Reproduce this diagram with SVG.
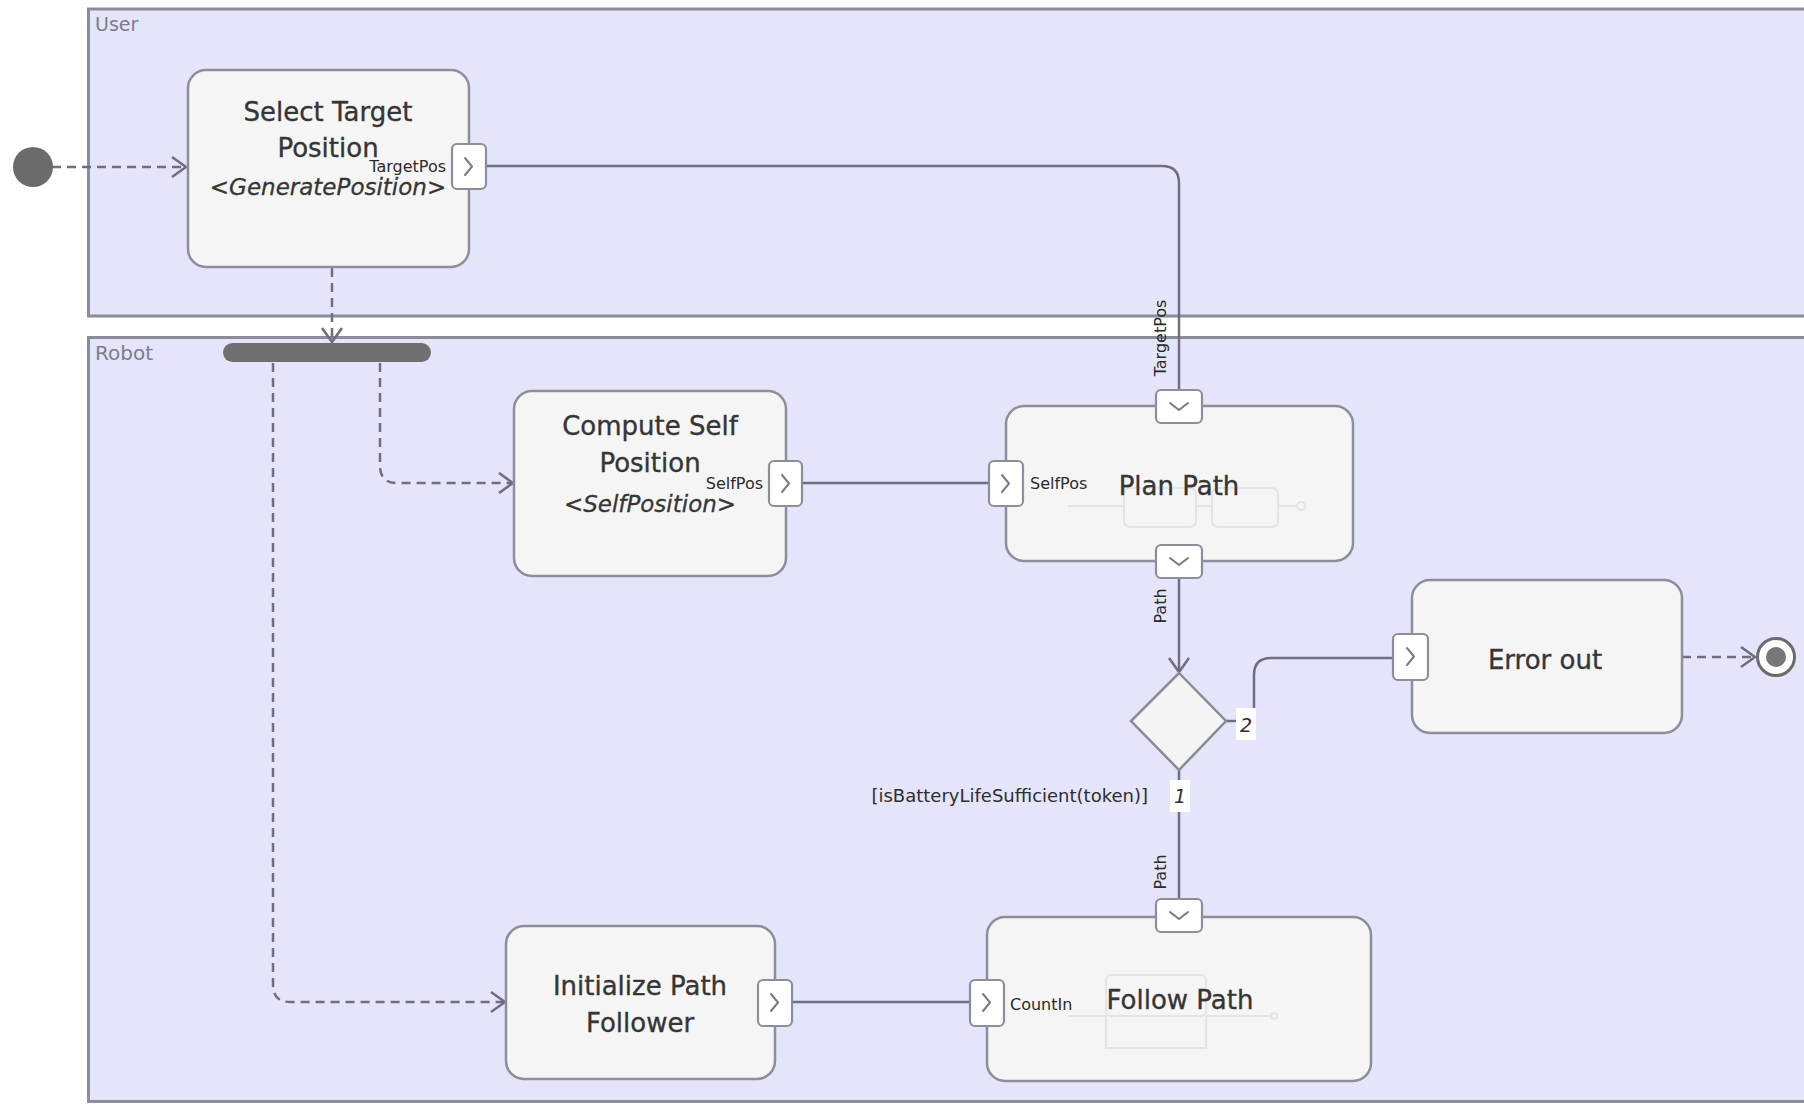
<svg xmlns="http://www.w3.org/2000/svg" width="1804" height="1104" viewBox="0 0 1804 1104">
  <style>
    .lane { fill: #e4e4fb; stroke: #8c8c98; stroke-width: 3; }
    .lane-label { font-family: "DejaVu Sans", sans-serif; font-size: 19px; fill: #7c7c8c; }
    .action { fill: #f5f5f6; stroke: #8e8e9a; stroke-width: 2.5; }
    .title { font-family: "DejaVu Sans", sans-serif; font-size: 26px; fill: #353535; stroke: #353535; stroke-width: 0.35; text-anchor: middle; }
    .stereo { font-family: "DejaVu Sans", sans-serif; font-size: 23px; font-style: italic; fill: #353535; stroke: #353535; stroke-width: 0.3; text-anchor: middle; }
    .pin { fill: #ffffff; stroke: #8e8e9a; stroke-width: 2.2; }
    .chev { fill: none; stroke: #7a7a86; stroke-width: 2; stroke-linecap: round; stroke-linejoin: round; }
    .pin-label { font-family: "DejaVu Sans", sans-serif; font-size: 16px; fill: #2a2a2a; }
    .flow { fill: none; stroke: #6e6e80; stroke-width: 2.5; }
    .ctrl { fill: none; stroke: #6e6e80; stroke-width: 2.5; stroke-dasharray: 9 6; }
    .guard { font-family: "DejaVu Sans", sans-serif; font-size: 18px; fill: #2e2e2e; }
    .num { font-family: "DejaVu Sans", sans-serif; font-size: 19px; font-style: italic; fill: #2e2e2e; text-anchor: middle; }
    .ghost { fill: none; stroke: #e3e3e8; stroke-width: 2; }
  </style>
  <defs>
    <marker id="open" markerUnits="userSpaceOnUse" markerWidth="18" markerHeight="24" refX="15" refY="11" orient="auto">
      <path d="M1,1 L15,11 L1,21" fill="none" stroke="#6e6e80" stroke-width="2.5"/>
    </marker>
  </defs>

  <rect width="1804" height="1104" fill="#ffffff"/>

  <!-- swimlanes -->
  <g id="lane-user">
    <rect class="lane" x="88.5" y="9" width="1740" height="307"/>
    <text class="lane-label" x="95" y="31">User</text>
  </g>
  <g id="lane-robot">
    <rect class="lane" x="88.5" y="337.5" width="1740" height="764"/>
    <text class="lane-label" x="95" y="360" style="font-size:20px">Robot</text>
  </g>

  <!-- connectors -->
  <g id="connectors">
    <path class="ctrl" d="M52,167 H186" marker-end="url(#open)"/>
    <path class="ctrl" d="M332,268 V342" marker-end="url(#open)"/>
    <path class="ctrl" d="M380,363 V466 Q380,483 397,483 H513" marker-end="url(#open)"/>
    <path class="ctrl" d="M273,363 V985 Q273,1002 290,1002 H505" marker-end="url(#open)"/>
    <path class="flow" d="M486,166 H1162 Q1179,166 1179,183 V390"/>
    <path class="flow" d="M802,483 H988"/>
    <path class="flow" d="M1179,578 V672" marker-end="url(#open)"/>
    <path class="flow" d="M1179,770 V898"/>
    <path class="flow" d="M1226,721 H1254 V675 Q1254,658 1271,658 H1393"/>
    <path class="flow" d="M792,1002 H970"/>
    <path class="ctrl" d="M1682,657 H1755" marker-end="url(#open)"/>

    <text class="pin-label" transform="translate(1166,338) rotate(-90)" text-anchor="middle">TargetPos</text>
    <text class="pin-label" transform="translate(1166,606) rotate(-90)" text-anchor="middle">Path</text>
    <text class="pin-label" transform="translate(1166,872) rotate(-90)" text-anchor="middle">Path</text>

    <rect x="1236" y="708" width="20" height="32" fill="#ffffff"/>
    <text class="num" x="1246" y="732">2</text>
    <rect x="1170" y="780" width="20" height="32" fill="#ffffff"/>
    <text class="num" x="1180" y="803">1</text>
    <text class="guard" x="1148" y="802" text-anchor="end">[isBatteryLifeSufficient(token)]</text>
  </g>

  <!-- initial node -->
  <g id="initial">
    <circle cx="33" cy="167" r="20" fill="#6b6b6b"/>
  </g>

  <!-- fork -->
  <g id="fork">
    <rect x="223" y="343" width="208" height="19" rx="9.5" fill="#707070"/>
  </g>

  <!-- Select Target Position -->
  <g id="select-target">
    <rect class="action" x="188" y="70" width="281" height="197" rx="18"/>
    <text class="title" x="328" y="121">Select Target</text>
    <text class="title" x="328" y="157">Position</text>
    <text class="stereo" x="328" y="195">&lt;GeneratePosition&gt;</text>
    <rect class="pin" x="452" y="144" width="34" height="45" rx="5"/>
    <path class="chev" d="M465,158 L472,166.5 L465,175"/>
    <text class="pin-label" x="446" y="172" text-anchor="end">TargetPos</text>
  </g>

  <!-- Compute Self Position -->
  <g id="compute-self">
    <rect class="action" x="514" y="391" width="272" height="185" rx="18"/>
    <text class="title" x="650" y="435">Compute Self</text>
    <text class="title" x="650" y="472">Position</text>
    <text class="stereo" x="650" y="512">&lt;SelfPosition&gt;</text>
    <rect class="pin" x="769" y="461" width="33" height="45" rx="5"/>
    <path class="chev" d="M782,475 L789,483.5 L782,492"/>
    <text class="pin-label" x="763" y="489" text-anchor="end">SelfPos</text>
  </g>

  <!-- Plan Path -->
  <g id="plan-path">
    <rect class="action" x="1006" y="406" width="347" height="155" rx="18"/>
    <path class="ghost" d="M1068,506 H1124 M1196,506 H1212 M1278,506 H1296"/>
    <rect class="ghost" x="1124" y="488" width="72" height="39" rx="6"/>
    <rect class="ghost" x="1212" y="488" width="66" height="39" rx="6"/>
    <circle class="ghost" cx="1301" cy="506" r="4"/>
    <text class="title" x="1179" y="495">Plan Path</text>
    <rect class="pin" x="989" y="461" width="34" height="45" rx="5"/>
    <path class="chev" d="M1002,475 L1009,483.5 L1002,492"/>
    <text class="pin-label" x="1030" y="489">SelfPos</text>
    <rect class="pin" x="1156" y="390" width="46" height="33" rx="5"/>
    <path class="chev" d="M1170,403 L1179,410 L1188,403"/>
    <rect class="pin" x="1156" y="545" width="46" height="33" rx="5"/>
    <path class="chev" d="M1170,558 L1179,565 L1188,558"/>
  </g>

  <!-- decision -->
  <g id="decision">
    <path d="M1179,673 L1226,721 L1179,770 L1131,721 Z" fill="#f4f4f4" stroke="#8a8a94" stroke-width="2.5"/>
  </g>

  <!-- Error out -->
  <g id="error-out">
    <rect class="action" x="1412" y="580" width="270" height="153" rx="18"/>
    <text class="title" x="1545" y="669">Error out</text>
    <rect class="pin" x="1393" y="634" width="35" height="46" rx="5"/>
    <path class="chev" d="M1407,648 L1414,656.5 L1407,665"/>
  </g>

  <!-- final node -->
  <g id="final">
    <circle cx="1776" cy="657" r="18.5" fill="#ffffff" stroke="#6b6b6b" stroke-width="3"/>
    <circle cx="1776" cy="657" r="10" fill="#777777"/>
  </g>

  <!-- Initialize Path Follower -->
  <g id="init-follower">
    <rect class="action" x="506" y="926" width="269" height="153" rx="18"/>
    <text class="title" x="640" y="995">Initialize Path</text>
    <text class="title" x="640" y="1032">Follower</text>
    <rect class="pin" x="758" y="980" width="34" height="46" rx="5"/>
    <path class="chev" d="M771,994 L778,1002.5 L771,1011"/>
  </g>

  <!-- Follow Path -->
  <g id="follow-path">
    <rect class="action" x="987" y="917" width="384" height="164" rx="18"/>
    <path class="ghost" d="M1068,1016 H1106 M1206,1016 H1270 M1106,1016 V1048 H1206 V1016"/>
    <rect class="ghost" x="1106" y="975" width="100" height="41" rx="5"/>
    <circle class="ghost" cx="1274" cy="1016" r="3"/>
    <text class="title" x="1180" y="1009">Follow Path</text>
    <rect class="pin" x="970" y="980" width="34" height="46" rx="5"/>
    <path class="chev" d="M983,994 L990,1002.5 L983,1011"/>
    <text class="pin-label" x="1010" y="1010">CountIn</text>
    <rect class="pin" x="1156" y="899" width="46" height="33" rx="5"/>
    <path class="chev" d="M1170,912 L1179,919 L1188,912"/>
  </g>
</svg>
